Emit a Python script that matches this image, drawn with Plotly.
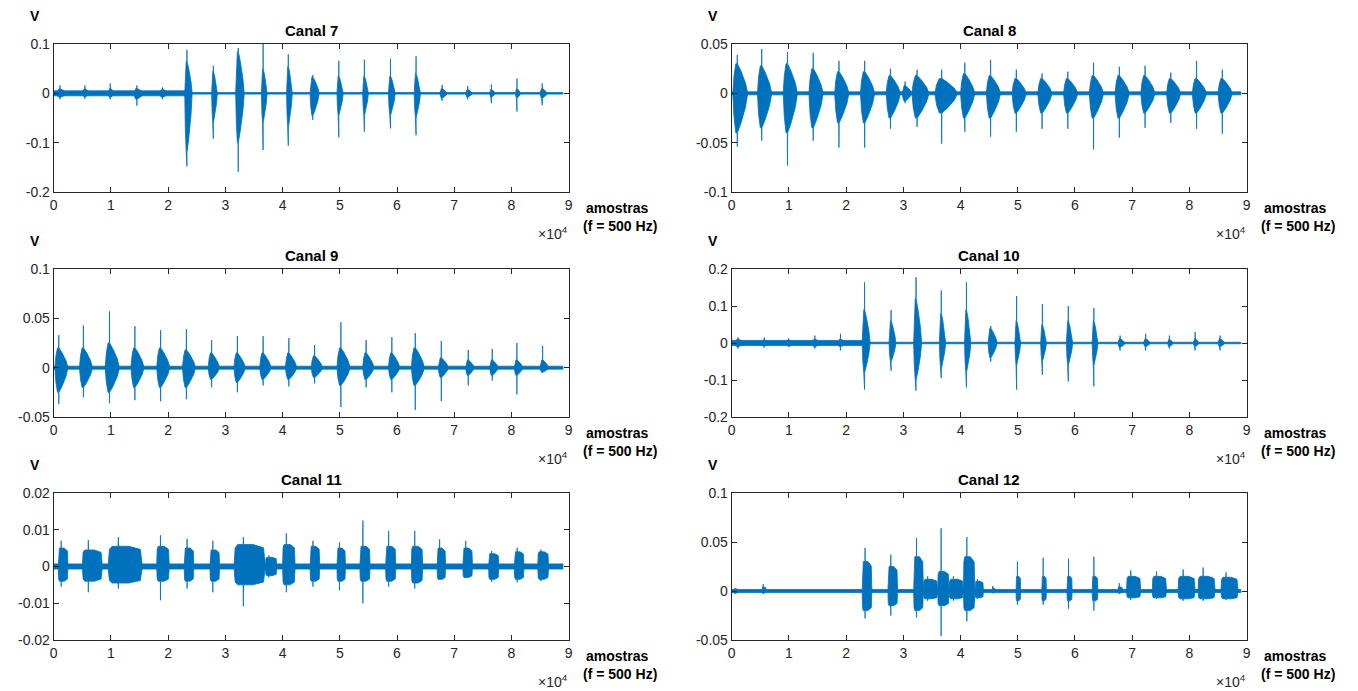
import plotly.graph_objects as go

# ---------------- data (samples, volts) ----------------
X_TICKS = [0, 10000, 20000, 30000, 40000, 50000, 60000, 70000, 80000, 90000]
X_TICK_LABELS = ["0", "1", "2", "3", "4", "5", "6", "7", "8", "9"]

# Canal 7
C7_START = [500, 5000, 9500, 14000, 18500, 22900, 27600, 31800, 36300, 40700, 44800, 49500, 54000, 58500, 63000, 67500, 72000, 76200, 80700, 85000]
C7_END = [2500, 6500, 10800, 15800, 20200, 24200, 28600, 33300, 37300, 41700, 46400, 50600, 55000, 59700, 64100, 68800, 73200, 77200, 81600, 86300]
C7_PEAK_HI = [0.016, 0.016, 0.02, 0.016, 0.012, 0.088, 0.056, 0.092, 0.10, 0.079, 0.037, 0.066, 0.068, 0.07, 0.075, 0.017, 0.015, 0.018, 0.03, 0.02]
C7_PEAK_LO = [-0.012, -0.011, -0.012, -0.025, -0.012, -0.148, -0.092, -0.159, -0.115, -0.106, -0.054, -0.089, -0.078, -0.071, -0.085, -0.015, -0.012, -0.02, -0.037, -0.024]
C7_CORE_HI = [0.009, 0.009, 0.01, 0.01, 0.008, 0.065, 0.045, 0.085, 0.05, 0.055, 0.033, 0.035, 0.035, 0.035, 0.04, 0.01, 0.008, 0.008, 0.01, 0.01]
C7_CORE_LO = [-0.008, -0.007, -0.008, -0.012, -0.008, -0.12, -0.06, -0.10, -0.06, -0.07, -0.045, -0.045, -0.045, -0.045, -0.05, -0.01, -0.008, -0.008, -0.01, -0.01]
C7_BASE_START = [0, 23000]
C7_BASE_END = [23000, 89000]
C7_BASE_LEVEL = [0.005, 0.0015]
C7_YTICKS = [-0.2, -0.1, 0, 0.1]
C7_YLABELS = ["-0.2", "-0.1", "0", "0.1"]

# Canal 8
C8_START = [200, 4500, 9000, 13500, 18000, 22500, 27000, 29800, 31500, 35500, 40000, 44500, 49000, 53500, 58000, 62500, 67000, 71500, 76000, 80500, 85000]
C8_END = [2800, 7000, 11500, 16000, 20500, 25000, 29500, 31500, 34500, 39500, 42500, 47000, 51500, 56000, 60500, 65000, 69500, 74000, 78500, 83000, 87500]
C8_PEAK_HI = [0.039, 0.045, 0.042, 0.041, 0.033, 0.033, 0.025, 0.012, 0.024, 0.024, 0.031, 0.034, 0.024, 0.02, 0.022, 0.031, 0.027, 0.028, 0.021, 0.033, 0.024]
C8_PEAK_LO = [-0.054, -0.048, -0.073, -0.048, -0.055, -0.055, -0.036, -0.01, -0.034, -0.051, -0.039, -0.044, -0.039, -0.036, -0.036, -0.057, -0.045, -0.035, -0.03, -0.036, -0.041]
C8_CORE_HI = [0.03, 0.028, 0.03, 0.025, 0.022, 0.022, 0.018, 0.008, 0.018, 0.015, 0.02, 0.018, 0.015, 0.015, 0.015, 0.018, 0.018, 0.018, 0.015, 0.015, 0.015]
C8_CORE_LO = [-0.04, -0.035, -0.04, -0.035, -0.03, -0.03, -0.025, -0.008, -0.025, -0.02, -0.025, -0.025, -0.02, -0.02, -0.02, -0.025, -0.025, -0.02, -0.02, -0.02, -0.02]
C8_BASE_START = [0]
C8_BASE_END = [89000]
C8_BASE_LEVEL = [0.0015]
C8_YTICKS = [-0.1, -0.05, 0, 0.05]
C8_YLABELS = ["-0.1", "-0.05", "0", "0.05"]

# Canal 9
C9_START = [200, 4500, 9000, 13500, 18000, 22500, 27000, 31500, 36000, 40500, 45000, 49500, 54000, 58500, 62500, 67200, 72000, 76200, 80500, 85000]
C9_END = [2500, 6800, 11500, 15800, 20300, 24800, 29000, 33500, 38000, 42500, 47000, 51800, 56000, 60500, 64800, 69000, 73500, 77700, 82000, 86500]
C9_PEAK_HI = [0.033, 0.043, 0.057, 0.042, 0.038, 0.039, 0.028, 0.032, 0.032, 0.03, 0.023, 0.046, 0.028, 0.031, 0.035, 0.027, 0.018, 0.019, 0.025, 0.022]
C9_PEAK_LO = [-0.037, -0.03, -0.036, -0.033, -0.034, -0.032, -0.02, -0.025, -0.018, -0.019, -0.016, -0.04, -0.02, -0.025, -0.043, -0.034, -0.018, -0.013, -0.027, -0.005]
C9_CORE_HI = [0.02, 0.02, 0.025, 0.02, 0.02, 0.018, 0.015, 0.015, 0.015, 0.015, 0.012, 0.02, 0.015, 0.015, 0.02, 0.01, 0.008, 0.008, 0.008, 0.008]
C9_CORE_LO = [-0.025, -0.02, -0.025, -0.02, -0.02, -0.02, -0.012, -0.015, -0.012, -0.012, -0.01, -0.018, -0.012, -0.012, -0.018, -0.01, -0.008, -0.008, -0.008, -0.005]
C9_BASE_START = [0]
C9_BASE_END = [89000]
C9_BASE_LEVEL = [0.0015]
C9_YTICKS = [-0.05, 0, 0.05, 0.1]
C9_YLABELS = ["-0.05", "0", "0.05", "0.1"]

# Canal 10
C10_START = [500, 5200, 9500, 14000, 18500, 22800, 27500, 31800, 36300, 40700, 44800, 49500, 54000, 58500, 63000, 67500, 72000, 76200, 80700, 85000]
C10_END = [2500, 6800, 11000, 15800, 20200, 24200, 28700, 33200, 37400, 41800, 46400, 50500, 55000, 59600, 64000, 68800, 73200, 77200, 81700, 86200]
C10_PEAK_HI = [0.015, 0.015, 0.012, 0.02, 0.025, 0.164, 0.089, 0.178, 0.142, 0.164, 0.046, 0.127, 0.105, 0.10, 0.094, 0.02, 0.025, 0.02, 0.03, 0.02]
C10_PEAK_LO = [-0.015, -0.012, -0.01, -0.015, -0.02, -0.126, -0.075, -0.129, -0.095, -0.12, -0.05, -0.126, -0.086, -0.104, -0.117, -0.02, -0.02, -0.015, -0.02, -0.02]
C10_CORE_HI = [0.01, 0.008, 0.008, 0.01, 0.01, 0.09, 0.06, 0.12, 0.08, 0.09, 0.04, 0.06, 0.05, 0.06, 0.06, 0.012, 0.012, 0.01, 0.012, 0.012]
C10_CORE_LO = [-0.01, -0.008, -0.008, -0.01, -0.01, -0.08, -0.05, -0.10, -0.07, -0.08, -0.04, -0.06, -0.05, -0.06, -0.06, -0.012, -0.01, -0.01, -0.01, -0.01]
C10_BASE_START = [0, 23000]
C10_BASE_END = [23000, 89000]
C10_BASE_LEVEL = [0.007, 0.002]
C10_YTICKS = [-0.2, -0.1, 0, 0.1, 0.2]
C10_YLABELS = ["-0.2", "-0.1", "0", "0.1", "0.2"]

# Canal 11
C11_START = [800, 5000, 9500, 18000, 22800, 27300, 31500, 37000, 40000, 44800, 49500, 53500, 58000, 62500, 67000, 71500, 76000, 80500, 84600]
C11_END = [2500, 8500, 15500, 20200, 24500, 29000, 37000, 39000, 42200, 46500, 51000, 55300, 59800, 64500, 68500, 73200, 77800, 82200, 86500]
C11_PEAK_HI = [0.007, 0.0072, 0.008, 0.0085, 0.0075, 0.007, 0.008, 0.003, 0.009, 0.007, 0.0066, 0.0125, 0.0097, 0.0097, 0.0074, 0.007, 0.0042, 0.0051, 0.0046]
C11_PEAK_LO = [-0.0055, -0.007, -0.006, -0.0092, -0.006, -0.007, -0.0108, -0.003, -0.007, -0.0055, -0.0065, -0.01, -0.0055, -0.006, -0.0037, -0.0032, -0.0042, -0.0043, -0.004]
C11_CORE_HI = [0.005, 0.0045, 0.0055, 0.0055, 0.005, 0.0045, 0.006, 0.0025, 0.006, 0.0055, 0.005, 0.0055, 0.0055, 0.0055, 0.005, 0.005, 0.0035, 0.004, 0.004]
C11_CORE_LO = [-0.004, -0.004, -0.0045, -0.004, -0.004, -0.004, -0.005, -0.0025, -0.005, -0.004, -0.004, -0.004, -0.004, -0.0045, -0.0035, -0.003, -0.0035, -0.0035, -0.0035]
C11_BASE_START = [0]
C11_BASE_END = [89000]
C11_BASE_LEVEL = [0.0007]
C11_YTICKS = [-0.02, -0.01, 0, 0.01, 0.02]
C11_YLABELS = ["-0.02", "-0.01", "0", "0.01", "0.02"]

# Canal 12
C12_START = [300, 5300, 22800, 27300, 31800, 33500, 36000, 38000, 40500, 42500, 45500, 49700, 54200, 58600, 63000, 67500, 69000, 73500, 78000, 81500, 85500]
C12_END = [1200, 6000, 24500, 29000, 33500, 36000, 38000, 40500, 42500, 44000, 46000, 50500, 55000, 59500, 64000, 68300, 71500, 76000, 81000, 84500, 88500]
C12_PEAK_HI = [0.003, 0.007, 0.044, 0.037, 0.054, 0.015, 0.064, 0.015, 0.055, 0.012, 0.005, 0.03, 0.034, 0.033, 0.035, 0.008, 0.021, 0.02, 0.022, 0.024, 0.019]
C12_PEAK_LO = [-0.003, -0.003, -0.028, -0.025, -0.027, -0.01, -0.046, -0.01, -0.031, -0.008, -0.002, -0.014, -0.014, -0.018, -0.02, -0.003, -0.009, -0.008, -0.01, -0.01, -0.009]
C12_CORE_HI = [0.002, 0.004, 0.03, 0.025, 0.035, 0.012, 0.02, 0.012, 0.035, 0.01, 0.003, 0.015, 0.015, 0.015, 0.015, 0.004, 0.015, 0.015, 0.015, 0.015, 0.014]
C12_CORE_LO = [-0.002, -0.002, -0.02, -0.015, -0.02, -0.008, -0.015, -0.008, -0.02, -0.007, -0.002, -0.01, -0.01, -0.01, -0.01, -0.002, -0.007, -0.007, -0.008, -0.008, -0.008]
C12_BASE_START = [0]
C12_BASE_END = [89000]
C12_BASE_LEVEL = [0.0015]
C12_YTICKS = [-0.05, 0, 0.05, 0.1]
C12_YLABELS = ["-0.05", "0", "0.05", "0.1"]

CHANNELS = [
    ("Canal 7", C7_START, C7_END, C7_PEAK_HI, C7_PEAK_LO, C7_CORE_HI, C7_CORE_LO, C7_BASE_START, C7_BASE_END, C7_BASE_LEVEL, C7_YTICKS, C7_YLABELS),
    ("Canal 8", C8_START, C8_END, C8_PEAK_HI, C8_PEAK_LO, C8_CORE_HI, C8_CORE_LO, C8_BASE_START, C8_BASE_END, C8_BASE_LEVEL, C8_YTICKS, C8_YLABELS),
    ("Canal 9", C9_START, C9_END, C9_PEAK_HI, C9_PEAK_LO, C9_CORE_HI, C9_CORE_LO, C9_BASE_START, C9_BASE_END, C9_BASE_LEVEL, C9_YTICKS, C9_YLABELS),
    ("Canal 10", C10_START, C10_END, C10_PEAK_HI, C10_PEAK_LO, C10_CORE_HI, C10_CORE_LO, C10_BASE_START, C10_BASE_END, C10_BASE_LEVEL, C10_YTICKS, C10_YLABELS),
    ("Canal 11", C11_START, C11_END, C11_PEAK_HI, C11_PEAK_LO, C11_CORE_HI, C11_CORE_LO, C11_BASE_START, C11_BASE_END, C11_BASE_LEVEL, C11_YTICKS, C11_YLABELS),
    ("Canal 12", C12_START, C12_END, C12_PEAK_HI, C12_PEAK_LO, C12_CORE_HI, C12_CORE_LO, C12_BASE_START, C12_BASE_END, C12_BASE_LEVEL, C12_YTICKS, C12_YLABELS),
]

# ---------------- layout geometry (screen pixels) ----------------
W, H = 1358, 691
V_OFF, V_SPAN = 8, 675
COLS = [(50, 568), (732, 1250)]
ROWS = [(44, 192), (269, 417), (493, 640)]
BLUE = "#0072BD"
AXC = "#262626"
FONT = "Liberation Sans, Arial, sans-serif"
# burst drawing profiles (fraction of burst width, fraction of core amplitude; None = peak)
SPINDLE = ([0, 0.08, 0.2, 0.29, 0.3, 0.31, 0.55, 0.85, 1.0], [0, 0.6, 1.0, 1.0, None, 1.0, 0.75, 0.35, 0])
BLOCK = ([0, 0.04, 0.12, 0.29, 0.3, 0.31, 0.6, 0.94, 1.0], [0, 0.85, 1.0, 1.0, None, 1.0, 1.0, 0.85, 0])
PROFILES = [SPINDLE, SPINDLE, SPINDLE, SPINDLE, BLOCK, BLOCK]


def px(x):
    return x / W


def py(y):
    return 1 - (y - V_OFF) / V_SPAN


def envelope(starts, ends, hi, lo, chi, clo, bstart, bend, blev, profile):
    fx, fy = profile
    xs, ys = [], []
    for s, e, b in zip(bstart, bend, blev):
        xs += [s, e, e, s, None]
        ys += [b, b, -b, -b, None]
    for s, e, h, l, ch, cl in zip(starts, ends, hi, lo, chi, clo):
        w = e - s
        tx = [s + f * w for f in fx]
        ty = [h if f is None else f * ch for f in fy]
        by = [l if f is None else f * cl for f in fy]
        xs += tx + tx[::-1] + [None]
        ys += ty + by[::-1] + [None]
    return xs, ys


fig = go.Figure()
annotations = []

for i, ch in enumerate(CHANNELS):
    name, st, en, hi, lo, chi, clo, bs, be, bl, yt, yl = ch
    r, c = divmod(i, 2)
    x0, x1 = COLS[c]
    y0, y1 = ROWS[r]
    idx = "" if i == 0 else str(i + 1)
    xs, ys = envelope(st, en, hi, lo, chi, clo, bs, be, bl, PROFILES[i])
    fig.add_trace(go.Scatter(
        x=xs, y=ys, mode="lines", fill="toself", fillcolor=BLUE,
        line=dict(color=BLUE, width=0.8), xaxis="x" + idx, yaxis="y" + idx,
        showlegend=False, hoverinfo="skip"))
    axstyle = dict(showline=True, linecolor=AXC, linewidth=1, mirror="ticks",
                   ticks="inside", ticklen=5, tickcolor=AXC, showgrid=False,
                   zeroline=False, tickfont=dict(family=FONT, size=14, color=AXC))
    fig.update_layout(**{
        "xaxis" + idx: dict(domain=[px(x0), px(x1)], range=[0, 90000],
                            tickvals=X_TICKS, ticktext=X_TICK_LABELS,
                            anchor="y" + idx, **axstyle),
        "yaxis" + idx: dict(domain=[py(y1), py(y0)], range=[yt[0], yt[-1]],
                            tickvals=yt, ticktext=yl, anchor="x" + idx, **axstyle),
    })
    cx = (x0 + x1) / 2
    annotations += [
        dict(text="<b>" + name + "</b>", x=px(cx), y=py(y0 - 14), xanchor="center", yanchor="middle",
             font=dict(family=FONT, size=15, color="#000000")),
        dict(text="<b>V</b>", x=px(x0 - 19), y=py(y0 - 28), xanchor="center", yanchor="middle",
             font=dict(family=FONT, size=14, color="#000000")),
        dict(text="<b>amostras</b>", x=px(x1 + 49), y=py(y1 + 16), xanchor="center", yanchor="middle",
             font=dict(family=FONT, size=14, color="#000000")),
        dict(text="<b>(f = 500 Hz)</b>", x=px(x1 + 52), y=py(y1 + 34), xanchor="center", yanchor="middle",
             font=dict(family=FONT, size=14, color="#000000")),
        dict(text="\u00d710<sup>4</sup>", x=px(x1 + 1), y=py(y1 + 41), xanchor="right", yanchor="middle",
             font=dict(family=FONT, size=14, color=AXC)),
    ]

for a in annotations:
    a.update(xref="paper", yref="paper", showarrow=False)

fig.update_layout(width=W, height=H, margin=dict(l=0, r=0, t=0, b=0),
                  paper_bgcolor="white", plot_bgcolor="white",
                  annotations=annotations, font=dict(family=FONT))

fig.write_html("out.html")
